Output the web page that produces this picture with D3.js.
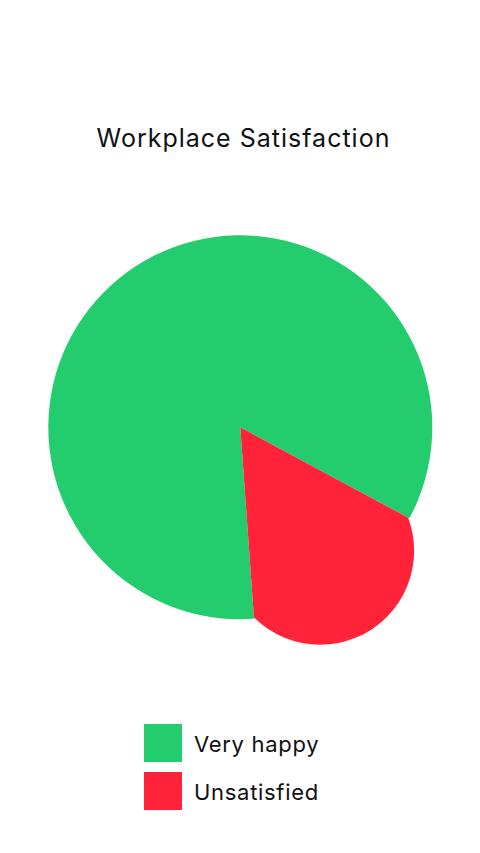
<!DOCTYPE html>
<html>
<head>
<meta charset="utf-8">
<script src="https://cdn.jsdelivr.net/npm/d3@7"></script>
<style>
  html, body { margin: 0; padding: 0; background: #fff; }
  svg { display: block; }
</style>
</head>
<body>
<div id="chart"></div>
<script>
var categories = ["Very happy", "Unsatisfied"];
var values = [84, 16];
var colors = ["#23cd6e", "#fe2338"];

var width = 480, height = 853;
var cx = 240.3, cy = 427.3;
var radius = 192;

var svg = d3.select("#chart").append("svg")
  .attr("width", width)
  .attr("height", height);

svg.append("text")
  .attr("x", 243.5)
  .attr("y", 147.3)
  .attr("text-anchor", "middle")
  .style("font-family", "Inter, 'Noto Sans', sans-serif")
  .style("font-size", "25px")
  .style("letter-spacing", "1px")
  .style("fill", "#111")
  .text("Workplace Satisfaction");

// red slice starts at ~118 deg from 12 o'clock, green fills the rest
var start = 175.9 * Math.PI / 180;
var pie = d3.pie().sort(null).startAngle(start).endAngle(start + 2 * Math.PI);
var arcs = pie(values);

var g = svg.append("g").attr("transform", "translate(" + cx + "," + cy + ")");

var arcMain = d3.arc().innerRadius(0).outerRadius(radius);
var arcPop = d3.arc().innerRadius(0).outerRadius(250);
var arcMid = d3.arc().innerRadius(147).outerRadius(147);

// rounded tip of the popped slice: inner disc + tip circle
var tip = arcMid.centroid(arcs[1]);
var clip = svg.append("defs").append("clipPath").attr("id", "tipClip");
clip.append("circle")
  .attr("cx", 0)
  .attr("cy", 0)
  .attr("r", radius - 1);
clip.append("circle")
  .attr("cx", tip[0])
  .attr("cy", tip[1])
  .attr("r", 94);

g.append("path")
  .attr("d", arcMain(arcs[0]))
  .attr("fill", colors[0]);

g.append("path")
  .attr("d", arcPop(arcs[1]))
  .attr("clip-path", "url(#tipClip)")
  .attr("fill", colors[1]);

var legend = svg.append("g").attr("transform", "translate(144,724)");
var item = legend.selectAll("g")
  .data(categories)
  .enter().append("g")
  .attr("transform", function(d, i){ return "translate(0," + (i * 48) + ")"; });

item.append("rect")
  .attr("width", 38)
  .attr("height", 38)
  .attr("fill", function(d, i){ return colors[i]; });

item.append("text")
  .attr("x", 50)
  .attr("y", 27.5)
  .style("font-family", "Inter, 'Noto Sans', sans-serif")
  .style("font-size", "22px")
  .style("letter-spacing", "0.7px")
  .style("fill", "#111")
  .text(function(d){ return d; });
</script>
</body>
</html>
